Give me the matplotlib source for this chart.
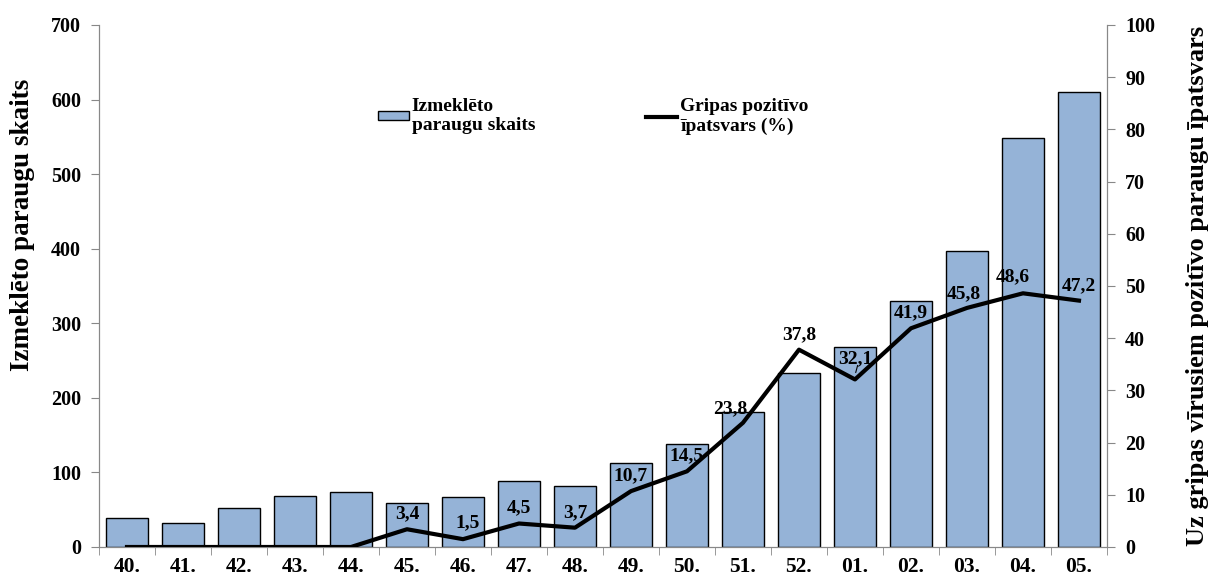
import numpy as np
import matplotlib
matplotlib.use('Agg')
from matplotlib import pyplot as plt

# Dati
nedelas = ['40.', '41.', '42.', '43.', '44.', '45.', '46.', '47.', '48.',
           '49.', '50.', '51.', '52.', '01.', '02.', '03.', '04.', '05.']
paraugi = [39, 32, 52, 68, 74, 59, 67, 88, 82,
           113, 138, 181, 233, 268, 330, 397, 548, 610]
pozitivo = [0, 0, 0, 0, 0, 3.4, 1.5, 4.5, 3.7,
            10.7, 14.5, 23.8, 37.8, 32.1, 41.9, 45.8, 48.6, 47.2]

plt.rcParams['font.family'] = 'Liberation Serif'
plt.rcParams['font.weight'] = 'bold'

fig = plt.figure(figsize=(12.13, 5.8), dpi=100)
ax = fig.add_axes([0.0816, 0.0569, 0.831, 0.900])
ax2 = ax.twinx()

x = np.arange(len(nedelas))
bars = ax.bar(x, paraugi, width=0.75, color='#95B3D7', edgecolor='black',
              linewidth=1, label='Izmeklēto\nparaugu skaits', zorder=2)
line, = ax2.plot(x, pozitivo, color='black', lw=3,
                 label='Gripas pozitīvo\nīpatsvars (%)', zorder=3)

ax.set_xlim(-0.5, len(nedelas) - 0.5)
ax.set_ylim(0, 700)
ax2.set_ylim(0, 100)
ax.set_yticks(range(0, 701, 100))
ax2.set_yticks(range(0, 101, 10))

ax.set_xticks(x)
ax.set_xticklabels(nedelas, fontsize=15.5, fontweight='bold')
ax.set_xticks(np.arange(-0.5, len(nedelas), 1), minor=True)
ax.tick_params(axis='x', which='major', length=0, pad=7)
ax.tick_params(axis='x', which='minor', length=6, color='#888888', direction='out')
ax.tick_params(axis='y', length=6, color='#888888', labelsize=14.5, pad=7)
ax2.tick_params(axis='y', length=6, color='#888888', labelsize=14.5, pad=7)

for a in (ax, ax2):
    a.spines['top'].set_visible(False)
    for s in ('left', 'right', 'bottom'):
        a.spines[s].set_color('#888888')
ax.set_zorder(ax2.get_zorder() - 1)
ax2.patch.set_visible(False)

ax.set_ylabel('Izmeklēto paraugu skaits', fontsize=19.5, fontweight='bold')
ax.yaxis.set_label_coords(-0.063, 0.617)
ax2.set_ylabel('Uz gripas vīrusiem pozitīvo paraugu īpatsvars', fontsize=19,
               fontweight='bold', labelpad=22)

# Datu etiķetes (nobīde punktos)
nobide = {6: (3, 12), 11: (-9, 10), 13: (0, 15), 16: (-7, 12), 15: (-2, 10)}
for i, v in enumerate(pozitivo):
    if v == 0:
        continue
    dx, dy = nobide.get(i, (0, 11))
    ax2.annotate(f'{v:.1f}'.replace('.', ','), (x[i], v), xytext=(dx, dy),
                 textcoords='offset points', ha='center', va='center',
                 fontsize=14, fontweight='bold', zorder=4)
ax2.annotate('', xy=(x[13], pozitivo[13] + 0.8), xytext=(x[13] + 0.06, pozitivo[13] + 3.2),
             arrowprops=dict(arrowstyle='-', color='black', lw=0.8))

leg = ax2.legend([bars, line], [bars.get_label(), line.get_label()], ncol=2,
                 loc='upper left', bbox_to_anchor=(0.297, 0.862),
                 bbox_transform=fig.transFigure, frameon=False, fontsize=14,
                 handlelength=1.6, handleheight=0.35, handletextpad=0.15,
                 columnspacing=5.7)

fig.savefig('out.png', dpi=100)
